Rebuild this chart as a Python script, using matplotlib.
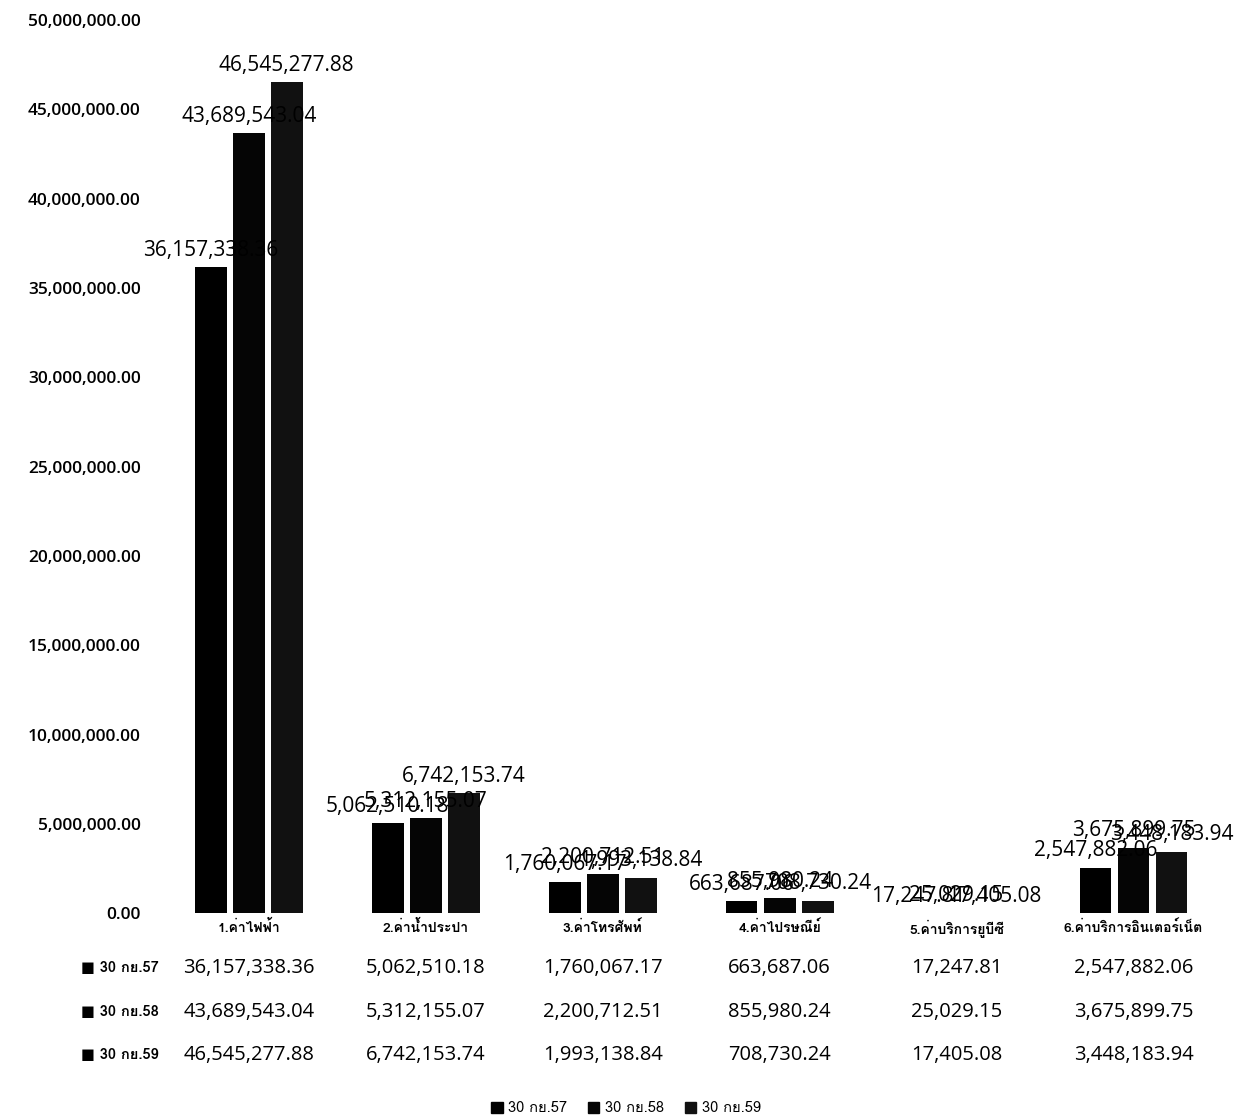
import matplotlib
matplotlib.use("Agg")
import matplotlib.pyplot as plt
from matplotlib import font_manager
from matplotlib.ft2font import FT2Font
from matplotlib.patches import Patch
from matplotlib.ticker import FuncFormatter

# ---------- Données ----------
categories = ["1.ค่าไฟฟ้า", "2.ค่าน้ำประปา", "3.ค่าโทรศัพท์",
              "4.ค่าไปรษณีย์", "5.ค่าบริการยูบีซี", "6.ค่าบริการอินเตอร์เน็ต"]
series_names = ["30 กย.57", "30 กย.58", "30 กย.59"]
val_57 = [36157338.36, 5062510.18, 1760067.17, 663687.06, 17247.81, 2547882.06]
val_58 = [43689543.04, 5312155.07, 2200712.51, 855980.24, 25029.15, 3675899.75]
val_59 = [46545277.88, 6742153.74, 1993138.84, 708730.24, 17405.08, 3448183.94]
y_ticks = [0, 5e6, 10e6, 15e6, 20e6, 25e6, 30e6, 35e6, 40e6, 45e6, 50e6]

# ---------- Police avec glyphes thaï ----------
thai_font = "DejaVu Sans"
for f in font_manager.fontManager.ttflist:
    try:
        if 0x0E04 in FT2Font(f.fname).get_charmap():
            thai_font = f.name
            break
    except Exception:
        pass
num_font = ["Open Sans", "DejaVu Sans"]
th_fam = [thai_font, "DejaVu Sans"]

# ---------- Figure ----------
fig = plt.figure(figsize=(12.52, 11.15), dpi=100)
ax = fig.add_axes([0.128, 0.181, 0.848, 0.801])

x = list(range(len(categories)))
w = 0.18
off = 0.215
series = [val_57, val_58, val_59]
colors = ["#000000", "#050505", "#111111"]

for i, vals in enumerate(series):
    xs = [xi + (i - 1) * off for xi in x]
    ax.bar(xs, vals, width=w, color=colors[i])
    for xv, v in zip(xs, vals):
        ax.text(xv, v + 350000, f"{v:,.2f}", ha="center", va="bottom",
                fontsize=15, family=num_font)

ax.set_xlim(-0.5, len(categories) - 0.5)
ax.set_ylim(0, 50e6)
ax.set_yticks(y_ticks)
ax.yaxis.set_major_formatter(FuncFormatter(lambda v, p: f"{v:,.2f}"))
for lab in ax.get_yticklabels():
    lab.set_family(num_font)
    lab.set_fontsize(12.5)
    lab.set_fontweight("semibold")
ax.tick_params(axis="y", length=0, pad=14)
ax.set_xticks([])
for s in ax.spines.values():
    s.set_visible(False)

# libellés des catégories
for xi, c in zip(x, categories):
    ax.text(xi, -0.008, c, transform=ax.get_xaxis_transform(), ha="center",
            va="top", fontsize=10, family=th_fam, fontweight="bold")

# tableau de données
row_y = [-0.061, -0.111, -0.159]
for r, (name, vals) in enumerate(zip(series_names, series)):
    ax.text(-0.038, row_y[r], "■ " + name, transform=ax.transAxes, ha="center",
            va="center", fontsize=10.5, family=th_fam, fontweight="bold")
    for xi, v in zip(x, vals):
        ax.text(xi, row_y[r], f"{v:,.2f}", transform=ax.get_xaxis_transform(),
                ha="center", va="center", fontsize=14.5, family=num_font)

# légende
handles = [Patch(color=colors[i], label=series_names[i]) for i in range(3)]
leg = fig.legend(handles=handles, loc="center", bbox_to_anchor=(0.5, 0.006),
                 ncol=3, frameon=False, handlelength=0.8,
                 handleheight=0.8, columnspacing=1.4, handletextpad=0.4,
                 prop={"family": th_fam, "size": 10.5})

fig.savefig("out.png", dpi=100)
